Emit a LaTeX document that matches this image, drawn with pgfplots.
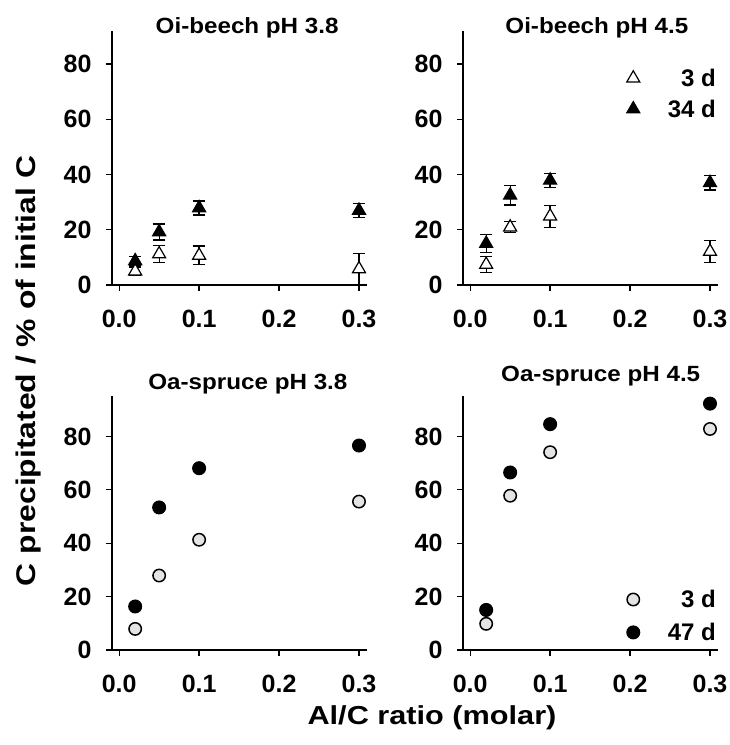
\documentclass[border=0pt]{standalone}
\usepackage{pgfplots}
\pgfplotsset{compat=1.18}
\usepackage{fontspec}
\setmainfont{Liberation Sans}
\newfontfamily\wideA{Liberation Sans}[FakeStretch=1.1]
\newfontfamily\wideB{Liberation Sans}[FakeStretch=1.18]
\definecolor{lg}{RGB}{228,228,228}

\pgfplotstableread{
x y e
0.02 5.0 1.5
0.05 11.2 3.0
0.1 10.7 3.4
0.3 5.8 5.5
}\beechAthree
\pgfplotstableread{
x y e
0.02 8.7 1.5
0.05 19.2 2.9
0.1 27.9 2.5
0.3 27.0 2.5
}\beechAlong
\pgfplotstableread{
x y e
0.02 7.4 3.0
0.05 20.9 2.0
0.1 24.9 4.0
0.3 12.1 3.9
}\beechBthree
\pgfplotstableread{
x y e
0.02 15.0 3.2
0.05 32.5 3.5
0.1 37.9 2.5
0.3 37.0 2.6
}\beechBlong
\pgfplotstableread{
x y
0.02 7.9
0.05 27.9
0.1 41.3
0.3 55.6
}\spruceAthree
\pgfplotstableread{
x y
0.02 16.3
0.05 53.4
0.1 68.1
0.3 76.6
}\spruceAlong
\pgfplotstableread{
x y
0.02 9.8
0.05 57.8
0.1 74.1
0.3 82.8
}\spruceBthree
\pgfplotstableread{
x y
0.02 15.0
0.05 66.5
0.1 84.6
0.3 92.3
}\spruceBlong

\pgfplotsset{
  panel/.style={
    scale only axis, width=255pt,
    xmin=-0.009, xmax=0.31, ymin=0,
    axis x line*=bottom, axis y line*=left,
    tick align=outside, major tick length=6pt,
    xtick={0,0.1,0.2,0.3}, xticklabels={0.0,0.1,0.2,0.3},
    ytick={0,20,40,60,80},
    axis line style={line width=1.5pt},
    tick style={line width=1.3pt, black},
    /pgf/number format/assume math mode=true,
    ticklabel style={font=\fontsize{25}{25}\selectfont\bfseries},
    xticklabel shift=16pt,
    yticklabel shift=11pt,
    title style={font=\wideA\fontsize{22}{22}\selectfont\bfseries, anchor=base},
    legend cell align=right,
    legend style={draw=none, fill=none, font=\fontsize{24}{24}\selectfont\bfseries,
      inner sep=0pt, row sep=10pt,
      /tikz/every odd column/.append style={column sep=26pt}},
  },
  opentri/.style={only marks, mark=triangle*, mark size=7.5pt,
    mark options={fill=white, draw=black, line width=1.2pt},
    error bars/.cd, y dir=both, y explicit,
    error bar style={line width=1.3pt, black},
    error mark options={rotate=90, mark size=6.3pt, line width=1.3pt, black}},
  filltri/.style={only marks, mark=triangle*, mark size=7.5pt,
    mark options={fill=black, draw=black, line width=1.2pt},
    error bars/.cd, y dir=both, y explicit,
    error bar style={line width=1.3pt, black},
    error mark options={rotate=90, mark size=6.3pt, line width=1.3pt, black}},
  opencirc/.style={only marks, mark=*, mark size=6.2pt,
    mark options={fill=lg, draw=black, line width=1.5pt}},
  fillcirc/.style={only marks, mark=*, mark size=6.5pt,
    mark options={fill=black, draw=black, line width=1pt}},
}

\begin{document}
\begin{tikzpicture}
\useasboundingbox (0,0) rectangle (730pt,745pt);

% top left
\begin{axis}[panel, at={(112pt,460pt)}, anchor=south west, height=254pt, ymax=92,
  title={Oi-beech pH 3.8}, title style={at={(0.53,1)}, yshift=-8.5pt}]
\addplot+[opentri] table[x=x, y=y, y error=e] {\beechAthree};
\addplot+[filltri] table[x=x, y=y, y error=e] {\beechAlong};
\end{axis}

% top right
\begin{axis}[panel, at={(463pt,460pt)}, anchor=south west, height=254pt, ymax=92,
  title={Oi-beech pH 4.5}, title style={at={(0.525,1)}, yshift=-8.3pt},
  legend style={at={(1,0.86)}, anchor=north east, row sep=8pt}]
\addplot+[opentri] table[x=x, y=y, y error=e] {\beechBthree};
\addlegendentry{3 d}
\addplot+[filltri] table[x=x, y=y, y error=e] {\beechBlong};
\addlegendentry{34 d}
\end{axis}

% bottom left
\begin{axis}[panel, at={(112pt,95pt)}, anchor=south west, height=253.6pt, ymax=95,
  title={Oa-spruce pH 3.8}, title style={at={(0.533,1)}, yshift=1.3pt}]
\addplot+[opencirc] table[x=x, y=y] {\spruceAthree};
\addplot+[fillcirc] table[x=x, y=y] {\spruceAlong};
\end{axis}

% bottom right
\begin{axis}[panel, at={(463pt,95pt)}, anchor=south west, height=253.6pt, ymax=95,
  title={Oa-spruce pH 4.5}, title style={at={(0.54,1)}, yshift=9.3pt},
  legend style={at={(1,0.245)}, anchor=north east}]
\addplot+[opencirc] table[x=x, y=y] {\spruceBthree};
\addlegendentry{3 d}
\addplot+[fillcirc] table[x=x, y=y] {\spruceBlong};
\addlegendentry{47 d}
\end{axis}

\node[rotate=90, font=\wideB\fontsize{27}{27}\selectfont\bfseries, inner sep=0pt] at (29pt,374pt) {C precipitated / \% of initial C};
\node[font=\wideB\fontsize{26}{26}\selectfont\bfseries, inner sep=0pt, anchor=base] at (432pt,20pt) {Al/C ratio (molar)};
\end{tikzpicture}
\end{document}
